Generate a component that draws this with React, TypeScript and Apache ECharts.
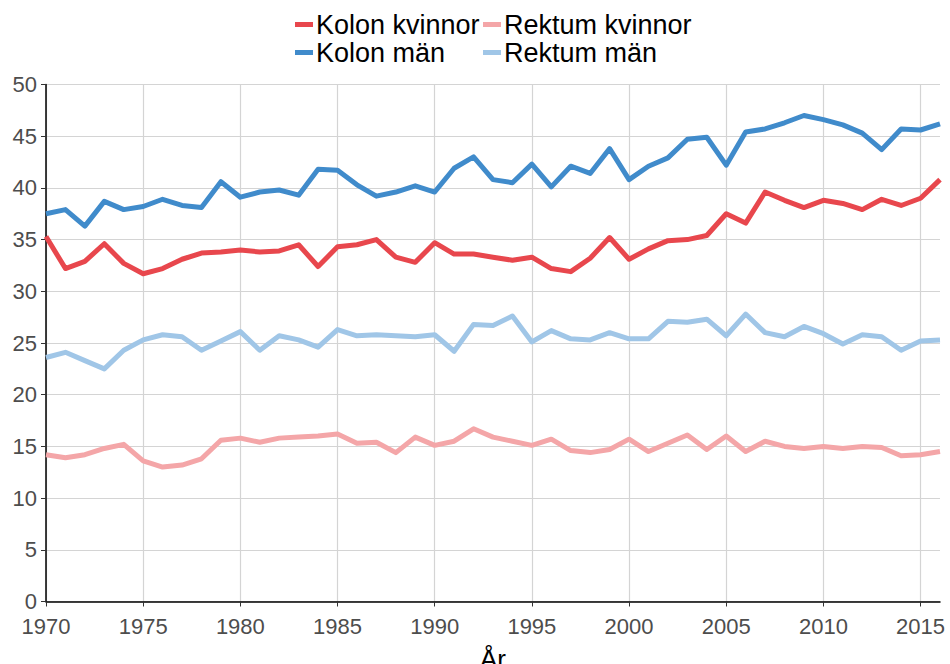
import React, { useEffect, useRef } from "react";
import * as echarts from "echarts";

const years: number[] = [
  1970, 1971, 1972, 1973, 1974, 1975, 1976, 1977, 1978, 1979,
  1980, 1981, 1982, 1983, 1984, 1985, 1986, 1987, 1988, 1989,
  1990, 1991, 1992, 1993, 1994, 1995, 1996, 1997, 1998, 1999,
  2000, 2001, 2002, 2003, 2004, 2005, 2006, 2007, 2008, 2009,
  2010, 2011, 2012, 2013, 2014, 2015, 2016,
];

const xTicks: number[] = [1970, 1975, 1980, 1985, 1990, 1995, 2000, 2005, 2010, 2015];

const kolonKvinnor: number[] = [
  35.3, 32.2, 32.9, 34.6, 32.7, 31.7, 32.2, 33.1, 33.7, 33.8,
  34.0, 33.8, 33.9, 34.5, 32.4, 34.3, 34.5, 35.0, 33.3, 32.8,
  34.7, 33.6, 33.6, 33.3, 33.0, 33.3, 32.2, 31.9, 33.2, 35.2,
  33.1, 34.1, 34.9, 35.0, 35.4, 37.5, 36.6, 39.6, 38.8, 38.1,
  38.8, 38.5, 37.9, 38.9, 38.3, 39.0, 40.8,
];

const kolonMan: number[] = [
  37.5, 37.9, 36.3, 38.7, 37.9, 38.2, 38.9, 38.3, 38.1, 40.6,
  39.1, 39.6, 39.8, 39.3, 41.8, 41.7, 40.3, 39.2, 39.6, 40.2,
  39.6, 41.9, 43.0, 40.8, 40.5, 42.3, 40.1, 42.1, 41.4, 43.8,
  40.8, 42.1, 42.9, 44.7, 44.9, 42.2, 45.4, 45.7, 46.3, 47.0,
  46.6, 46.1, 45.3, 43.7, 45.7, 45.6, 46.2,
];

const rektumKvinnor: number[] = [
  14.2, 13.9, 14.2, 14.8, 15.2, 13.6, 13.0, 13.2, 13.8, 15.6,
  15.8, 15.4, 15.8, 15.9, 16.0, 16.2, 15.3, 15.4, 14.4, 15.9,
  15.1, 15.5, 16.7, 15.9, 15.5, 15.1, 15.7, 14.6, 14.4, 14.7,
  15.7, 14.5, 15.3, 16.1, 14.7, 16.0, 14.5, 15.5, 15.0, 14.8,
  15.0, 14.8, 15.0, 14.9, 14.1, 14.2, 14.5,
];

const rektumMan: number[] = [
  23.6, 24.1, 23.3, 22.5, 24.3, 25.3, 25.8, 25.6, 24.3, 25.2,
  26.1, 24.3, 25.7, 25.3, 24.6, 26.3, 25.7, 25.8, 25.7, 25.6,
  25.8, 24.2, 26.8, 26.7, 27.6, 25.1, 26.2, 25.4, 25.3, 26.0,
  25.4, 25.4, 27.1, 27.0, 27.3, 25.7, 27.8, 26.0, 25.6, 26.6,
  25.9, 24.9, 25.8, 25.6, 24.3, 25.2, 25.3,
];

const seriesNames: string[] = ["Kolon kvinnor", "Rektum kvinnor", "Kolon män", "Rektum män"];
const seriesColors: string[] = ["#E8474D", "#F4A6A8", "#408BCB", "#A0C6E7"];
const seriesValues: number[][] = [kolonKvinnor, rektumKvinnor, kolonMan, rektumMan];

const FONT = "'Liberation Sans', Arial, sans-serif";

export default function App() {
  const ref = useRef<HTMLDivElement>(null);

  useEffect(() => {
    if (!ref.current) return;
    const chart = echarts.init(ref.current, undefined, { renderer: "svg" });

    const legendPos = [
      { left: 295, top: 11 },
      { left: 483, top: 11 },
      { left: 295, top: 39 },
      { left: 483, top: 39 },
    ];

    const option: any = {
      animation: false,
      backgroundColor: "#ffffff",
      textStyle: { fontFamily: FONT },
      legend: seriesNames.map((name, i) => ({
        data: [name],
        left: legendPos[i].left,
        top: legendPos[i].top,
        padding: 0,
        icon: "rect",
        itemWidth: 18,
        itemHeight: 5,
        itemGap: 0,
        selectedMode: false,
        textStyle: { fontSize: 27, color: "#000000", fontFamily: FONT, padding: [0, 0, 0, -2] },
      })),
      grid: {
        left: 46,
        right: 10,
        top: 84.5,
        bottom: 62.5,
        containLabel: false,
        outerBoundsMode: "none",
      },
      xAxis: {
        type: "value",
        min: 1970,
        max: 2016,
        interval: 5,
        name: "År",
        nameLocation: "middle",
        nameGap: 44,
        nameTextStyle: { fontSize: 26, color: "#000000", fontFamily: FONT },
        axisLine: { show: true, onZero: false, lineStyle: { color: "#000000", width: 1.5 } },
        axisTick: {
          show: true,
          length: 5,
          customValues: xTicks,
          lineStyle: { color: "#333333", width: 1 },
        },
        axisLabel: {
          fontSize: 22,
          color: "#4d4d4d",
          fontFamily: FONT,
          margin: 14,
          customValues: xTicks,
          formatter: (v: number) => String(v),
        },
        splitLine: { show: true, lineStyle: { color: "#d4d4d4", width: 1.2 } },
      },
      yAxis: {
        type: "value",
        min: 0,
        max: 50,
        interval: 5,
        axisLine: { show: true, lineStyle: { color: "#000000", width: 1.5 } },
        axisTick: { show: true, length: 5, lineStyle: { color: "#333333", width: 1 } },
        axisLabel: { fontSize: 22, color: "#4d4d4d", fontFamily: FONT, margin: 9 },
        splitLine: { show: true, lineStyle: { color: "#d4d4d4", width: 1.2 } },
      },
      series: seriesNames.map((name, i) => ({
        name,
        type: "line",
        data: years.map((y, j) => [y, seriesValues[i][j]]),
        showSymbol: false,
        symbol: "none",
        color: seriesColors[i],
        lineStyle: { width: 5, color: seriesColors[i], join: "round" },
      })),
    };

    chart.setOption(option);
    return () => chart.dispose();
  }, []);

  return (
    <div
      ref={ref}
      style={{ position: "fixed", left: 0, top: 0, width: 950, height: 664 }}
    />
  );
}
